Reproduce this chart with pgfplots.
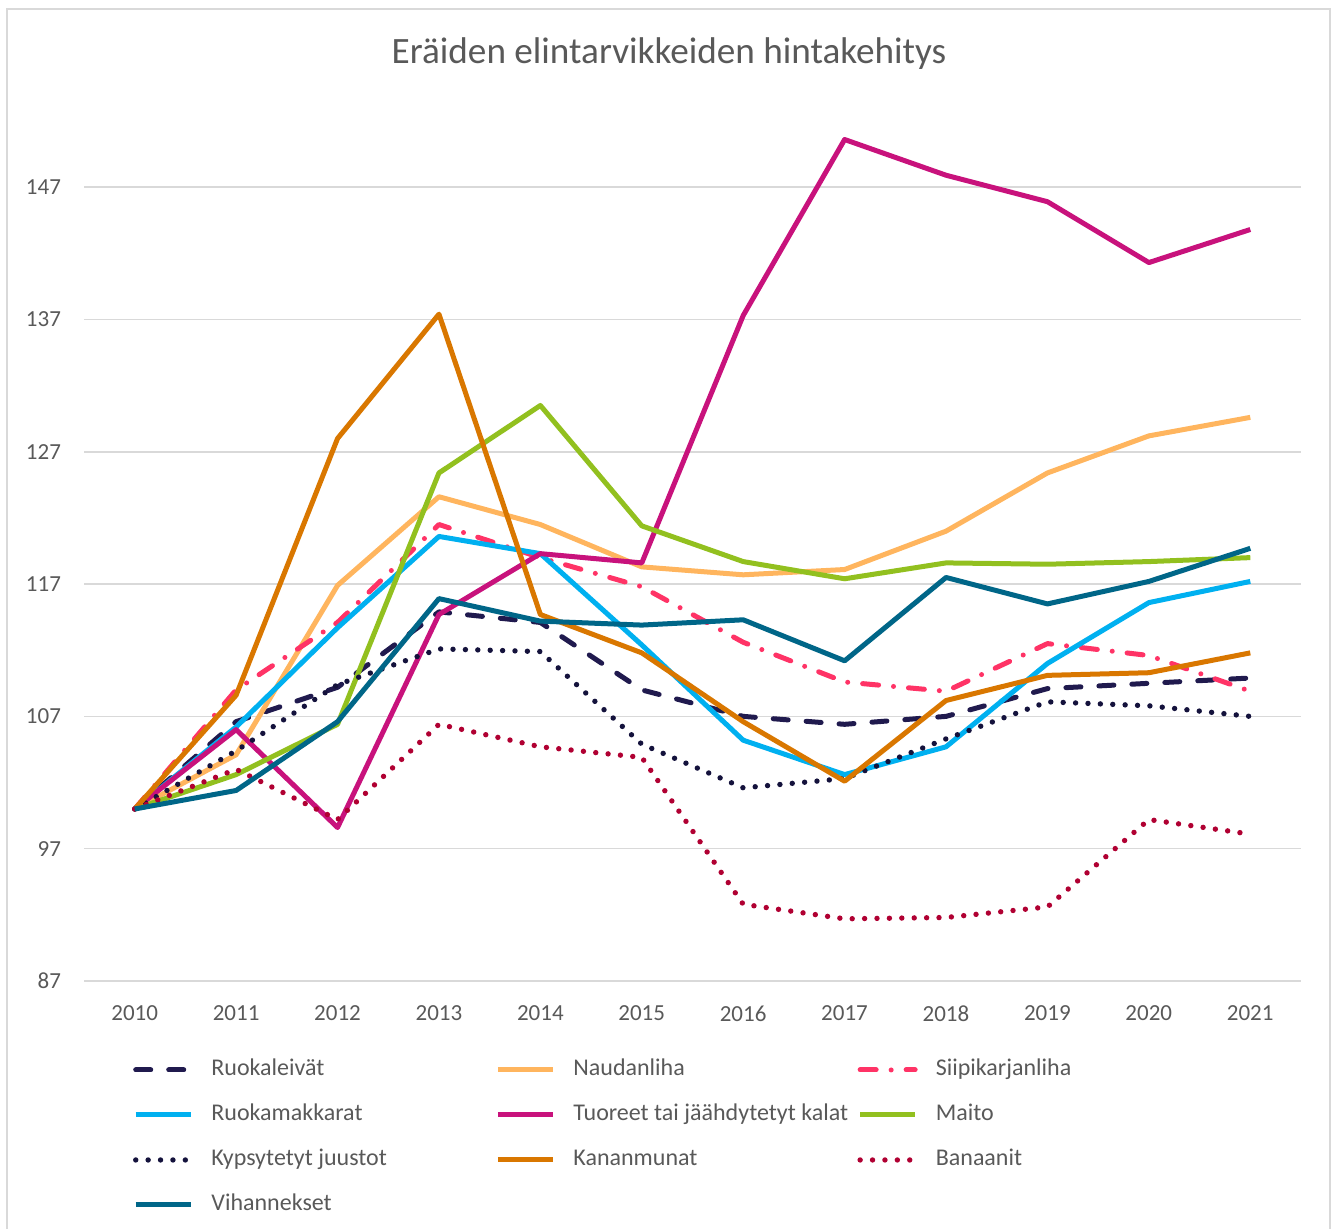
\documentclass[border=0pt]{standalone}
\usepackage{fontspec}
\setmainfont{Carlito}
\usepackage{pgfplots}
\pgfplotsset{compat=1.18}

\definecolor{txt}{HTML}{595959}
\definecolor{gridc}{HTML}{D9D9D9}
\definecolor{framec}{HTML}{D9D9D9}
\definecolor{cLeipa}{HTML}{201A4E}
\definecolor{cNauta}{HTML}{FFB55E}
\definecolor{cSiipi}{HTML}{FF3366}
\definecolor{cMakk}{HTML}{00B0F0}
\definecolor{cKala}{HTML}{C8127C}
\definecolor{cMaito}{HTML}{92C01F}
\definecolor{cJuusto}{HTML}{14123C}
\definecolor{cMuna}{HTML}{D97700}
\definecolor{cBanaani}{HTML}{B00032}
\definecolor{cVih}{HTML}{006688}

\newcommand{\lt}[1]{\makebox[142pt][l]{#1}}

\begin{document}
\begin{tikzpicture}[x=1pt,y=1pt]
\useasboundingbox (0pt,0pt) rectangle (668pt,614.5pt);
\draw[framec, line width=0.8pt] (3.5pt,-5pt) -- (3.5pt,610pt) -- (665pt,610pt) -- (665pt,-5pt);
\node[text=txt, font=\fontsize{18.6}{21}\selectfont] at (334.5pt,587.5pt) {Eräiden elintarvikkeiden hintakehitys};

\begin{axis}[
    at={(42pt,124pt)}, anchor=south west,
    width=608.5pt, height=430pt, scale only axis,
    xmin=2009.5, xmax=2021.5, ymin=87, ymax=152,
    xtick={2010,...,2021}, ytick={87,97,...,147},
    /pgf/number format/1000 sep={},
    /pgf/number format/assume math mode=true,
    axis line style={draw=none},
    major tick length=0pt,
    ymajorgrids, grid style={gridc, line width=0.75pt},
    ticklabel style={text=txt, font=\fontsize{11.5}{13}\selectfont},
    yticklabel style={xshift=-8pt},
    xticklabel style={yshift=-9pt},
    every axis plot/.append style={line width=2.5pt, line join=round},
    clip=false,
    legend columns=3,
    legend style={at={(0.0403,-0.0895)}, anchor=north west, draw=none, fill=none,
        inner sep=0pt, outer sep=0pt, row sep=10.5pt,
        font=\fontsize{12}{14}\selectfont, text=txt,
        nodes={inner sep=0pt, text height=9pt, text depth=3pt},
        /tikz/every odd column/.append style={column sep=9pt}},
    legend cell align=left,
    legend image code/.code={\draw[#1] (0pt,0pt) -- (27.5pt,0pt);},
]
% Ruokaleivät
\addplot[cLeipa, line cap=round, dash pattern=on 7.5pt off 9pt] coordinates {
  (2010,100) (2011,106.6) (2012,109.2) (2013,114.9) (2014,114.1) (2015,109.0)
  (2016,107.0) (2017,106.4) (2018,107.0) (2019,109.1) (2020,109.5) (2021,109.9)};
\addlegendentry{\lt{Ruokaleivät}}
% Naudanliha
\addplot[cNauta] coordinates {
  (2010,100) (2011,104.1) (2012,116.9) (2013,123.6) (2014,121.5) (2015,118.3)
  (2016,117.7) (2017,118.1) (2018,121.0) (2019,125.4) (2020,128.2) (2021,129.6)};
\addlegendentry{\lt{Naudanliha}}
% Siipikarjanliha
\addplot[cSiipi, line cap=round, dash pattern=on 8pt off 7.5pt on 0pt off 7.5pt] coordinates {
  (2010,100) (2011,109.0) (2012,114.1) (2013,121.5) (2014,119.0) (2015,116.8)
  (2016,112.6) (2017,109.6) (2018,108.9) (2019,112.5) (2020,111.6) (2021,108.9)};
\addlegendentry{\lt{Siipikarjanliha}}
% Ruokamakkarat
\addplot[cMakk] coordinates {
  (2010,100) (2011,106.2) (2012,113.7) (2013,120.6) (2014,119.3) (2015,112.4)
  (2016,105.2) (2017,102.6) (2018,104.7) (2019,111.0) (2020,115.6) (2021,117.2)};
\addlegendentry{\lt{Ruokamakkarat}}
% Tuoreet tai jäähdytetyt kalat
\addplot[cKala] coordinates {
  (2010,100) (2011,106.0) (2012,98.6) (2013,114.7) (2014,119.3) (2015,118.6)
  (2016,137.3) (2017,150.6) (2018,147.9) (2019,145.9) (2020,141.3) (2021,143.8)};
\addlegendentry{\lt{Tuoreet tai jäähdytetyt kalat}}
% Maito
\addplot[cMaito] coordinates {
  (2010,100) (2011,102.6) (2012,106.4) (2013,125.4) (2014,130.5) (2015,121.4)
  (2016,118.7) (2017,117.4) (2018,118.6) (2019,118.5) (2020,118.7) (2021,119.0)};
\addlegendentry{\lt{Maito}}
% Kypsytetyt juustot
\addplot[cJuusto, line width=2.7pt, line cap=round, dash pattern=on 0pt off 6.2pt] coordinates {
  (2010,100) (2011,104.4) (2012,109.4) (2013,112.1) (2014,111.9) (2015,104.9)
  (2016,101.6) (2017,102.3) (2018,105.3) (2019,108.1) (2020,107.8) (2021,107.0)};
\addlegendentry{\lt{Kypsytetyt juustot}}
% Kananmunat
\addplot[cMuna] coordinates {
  (2010,100) (2011,108.6) (2012,128.0) (2013,137.4) (2014,114.7) (2015,111.8)
  (2016,106.6) (2017,102.1) (2018,108.2) (2019,110.1) (2020,110.3) (2021,111.8)};
\addlegendentry{\lt{Kananmunat}}
% Banaanit
\addplot[cBanaani, line width=2.7pt, line cap=round, dash pattern=on 0pt off 6.2pt] coordinates {
  (2010,100) (2011,103.0) (2012,99.2) (2013,106.4) (2014,104.7) (2015,103.9)
  (2016,92.8) (2017,91.7) (2018,91.8) (2019,92.6) (2020,99.2) (2021,98.1)};
\addlegendentry{\lt{Banaanit}}
% Vihannekset
\addplot[cVih] coordinates {
  (2010,100) (2011,101.4) (2012,106.6) (2013,115.9) (2014,114.2) (2015,113.9)
  (2016,114.3) (2017,111.2) (2018,117.5) (2019,115.5) (2020,117.2) (2021,119.7)};
\addlegendentry{\lt{Vihannekset}}
\end{axis}
\end{tikzpicture}
\end{document}
